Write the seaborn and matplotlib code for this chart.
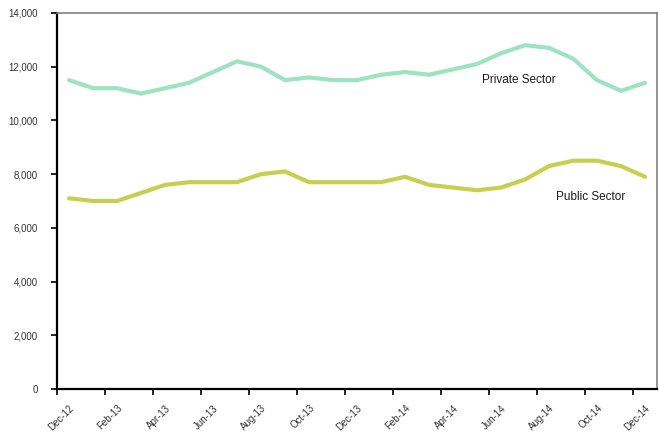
import pandas as pd
import numpy as np
import matplotlib
matplotlib.use("Agg")
import matplotlib.pyplot as plt
import seaborn as sns

# ==== data ====
months = ["Dec-12", "Jan-13", "Feb-13", "Mar-13", "Apr-13", "May-13", "Jun-13",
          "Jul-13", "Aug-13", "Sep-13", "Oct-13", "Nov-13", "Dec-13", "Jan-14",
          "Feb-14", "Mar-14", "Apr-14", "May-14", "Jun-14", "Jul-14", "Aug-14",
          "Sep-14", "Oct-14", "Nov-14", "Dec-14"]
private_sector = [11500, 11200, 11200, 11000, 11200, 11400, 11800, 12200, 12000,
                  11500, 11600, 11500, 11500, 11700, 11800, 11700, 11900, 12100,
                  12500, 12800, 12700, 12300, 11500, 11100, 11400]
public_sector = [7100, 7000, 7000, 7300, 7600, 7700, 7700, 7700, 8000, 8100,
                 7700, 7700, 7700, 7700, 7900, 7600, 7500, 7400, 7500, 7800,
                 8300, 8500, 8500, 8300, 7900]
y_ticks = [0, 2000, 4000, 6000, 8000, 10000, 12000, 14000]

df = pd.DataFrame({"idx": range(len(months)), "month": months,
                   "Private Sector": private_sector, "Public Sector": public_sector})
long = df.melt(id_vars=["idx", "month"], var_name="sector", value_name="value")

sns.set_style("white")
plt.rcParams["font.family"] = ["Liberation Sans", "DejaVu Sans"]

fig = plt.figure(figsize=(6.6, 4.32), dpi=100)
ax = fig.add_axes([0.0864, 0.0995, 0.9091, 0.8705])

palette = {"Private Sector": "#9de3c0", "Public Sector": "#c8cf4f"}
sns.lineplot(data=long, x="idx", y="value", hue="sector", palette=palette,
             linewidth=3, legend=False, ax=ax)

ax.set_xlim(-0.5, len(months) - 0.5)
ax.set_ylim(0, 14000)
ax.set_yticks(y_ticks)
ax.set_yticklabels([f"{v:,}" for v in y_ticks], fontsize=7, color="#333333")

# ticks between categories, labels at category centres
ax.set_xticks(np.arange(-0.5, len(months) - 1, 2))
ax.set_xticklabels([])
ax.set_xticks(range(0, len(months), 2), minor=True)
ax.set_xticklabels(months[::2], minor=True, rotation=45, ha="right",
                   rotation_mode="anchor", fontsize=7, color="#333333")
ax.tick_params(axis="x", which="minor", length=0, pad=10)
ax.tick_params(axis="y", which="major", pad=10)
ax.tick_params(axis="both", which="major", direction="out", length=4,
               width=1.2, color="black", left=True, bottom=True)
ax.set_xlabel("")
ax.set_ylabel("")

for side in ["left", "bottom"]:
    ax.spines[side].set_color("black")
    ax.spines[side].set_linewidth(1.6)
for side in ["top", "right"]:
    ax.spines[side].set_color("#808080")
    ax.spines[side].set_linewidth(1.2)

ax.text(17.2, 11500, "Private Sector", fontsize=8.5, color="#1a1a1a", va="center")
ax.text(20.3, 7150, "Public Sector", fontsize=8.5, color="#1a1a1a", va="center")

fig.savefig("out.png", dpi=100)
